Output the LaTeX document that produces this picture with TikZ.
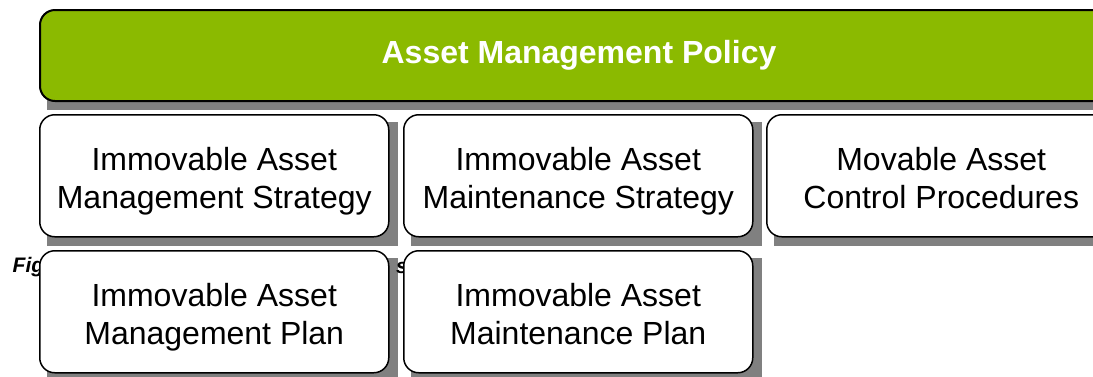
\documentclass[tikz,border=0pt]{standalone}
\usepackage{fontspec}
\setmainfont{Liberation Sans}
\usetikzlibrary{backgrounds}
\definecolor{polgreen}{RGB}{139,186,0}
\definecolor{shadegray}{RGB}{128,128,128}
\newcommand{\toprl}{\rule{0pt}{35pt}}
\newcommand{\botrl}{\rule[-8pt]{0pt}{8pt}}
\begin{document}
\begin{tikzpicture}[x=1pt,y=-1pt,
  docbox/.style={draw=black, line width=1.5pt, fill=white, rounded corners=15pt,
    minimum width=349pt, minimum height=122pt, align=center, anchor=north west,
    inner sep=0pt, font=\fontsize{32}{38}\selectfont},
  policybar/.style={draw=black, line width=2pt, fill=polgreen, rounded corners=15pt,
    minimum width=1078pt, minimum height=91pt, anchor=north west, inner sep=0pt,
    text=white, font=\fontsize{32}{38}\selectfont\bfseries},
  capfont/.style={font=\fontsize{21}{24}\selectfont\bfseries\itshape, inner sep=0pt, anchor=base west},
  shade/.style={fill=shadegray}
]
\useasboundingbox (0,0) rectangle (1093,376);
\clip (0,0) rectangle (1093,376);

% caption fragments (partly hidden behind boxes)
\node[capfont] (capa) at (12.5,272) {Fig};
\node[capfont] (capb) at (396,273) {s};

% policy bar
\node[policybar] (pol) at (39,9) {Asset Management Policy};

% row 1
\node[docbox] (ims) at (39,114) {\toprl Immovable Asset\\Management Strategy\botrl};
\node[docbox] (imt) at (403,114) {\toprl Immovable Asset\\Maintenance Strategy\botrl};
\node[docbox] (mvc) at (766,114) {\toprl Movable Asset\\Control Procedures\botrl};

% row 2
\node[docbox] (imp) at (39,250) {\toprl Immovable Asset\\Management Plan\botrl};
\node[docbox] (imq) at (403,250) {\toprl Immovable Asset\\Maintenance Plan\botrl};

\begin{scope}[on background layer]
  \foreach \n in {pol,ims,imt,mvc,imp,imq}{
    \fill[shade] ([shift={(8,8)}]\n.south west) rectangle ([shift={(8,8)}]\n.north east);
  }
\end{scope}
\end{tikzpicture}
\end{document}
